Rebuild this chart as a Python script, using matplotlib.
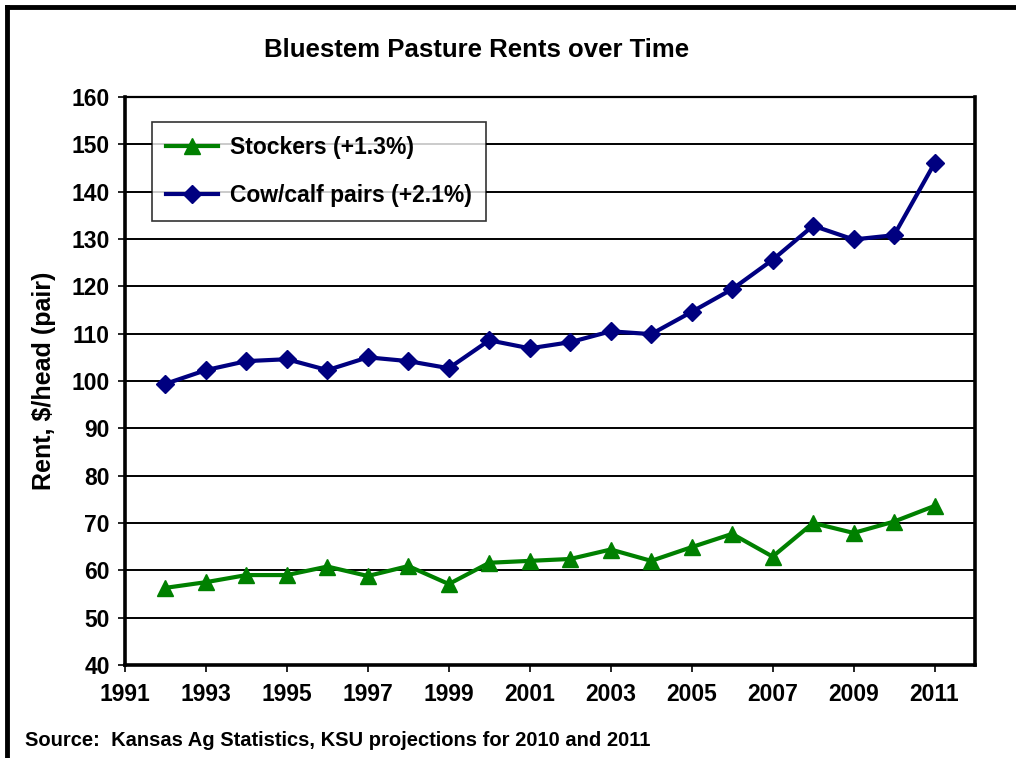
import matplotlib
matplotlib.use("Agg")
import matplotlib.pyplot as plt
from matplotlib.lines import Line2D

years = list(range(1992, 2012))
stockers = [56.3, 57.5, 59.0, 59.0, 60.8, 58.8, 60.9, 57.1, 61.6, 62.0,
            62.4, 64.4, 62.0, 64.9, 67.7, 62.9, 70.0, 67.9, 70.3, 73.6]
cowcalf = [99.4, 102.3, 104.2, 104.6, 102.3, 105.0, 104.2, 102.7, 108.6, 106.9,
           108.2, 110.5, 109.9, 114.6, 119.4, 125.6, 132.8, 129.9, 130.8, 146.0]
xticks = list(range(1991, 2012, 2))
yticks = list(range(40, 161, 10))
series_labels = ["Stockers (+1.3%)", "Cow/calf pairs (+2.1%)"]
title = "Bluestem Pasture Rents over Time"
ylabel = "Rent, $/head (pair)"
source = "Source:  Kansas Ag Statistics, KSU projections for 2010 and 2011"

plt.rcParams['font.family'] = ['Liberation Sans', 'DejaVu Sans']
plt.rcParams['font.weight'] = 'bold'

fig = plt.figure(figsize=(10.16, 7.58), dpi=100)
W, H = 1016, 758
ax = fig.add_axes([125 / W, 1 - 665 / H, 850 / W, 568 / H])

green = "#008000"
navy = "#000080"
ax.plot(years, stockers, color=green, lw=3, marker="^", ms=12, zorder=3,
        label=series_labels[0])
ax.plot(years, cowcalf, color=navy, lw=3, marker="D", ms=9, zorder=3,
        label=series_labels[1])

ax.set_xlim(1991, 2012)
ax.set_ylim(40, 160)
ax.set_xticks(xticks)
ax.set_yticks(yticks)
ax.tick_params(axis="both", labelsize=16.5, direction="out", length=5,
               width=1.2)
ax.tick_params(axis="y", pad=6)
ax.tick_params(axis="x", pad=8)
for lab in ax.get_xticklabels() + ax.get_yticklabels():
    lab.set_fontweight("bold")
ax.yaxis.grid(True, color="black", lw=1.4, zorder=1)
ax.set_axisbelow(True)
for side in ["left", "bottom", "right"]:
    ax.spines[side].set_linewidth(2.6)
ax.spines["top"].set_linewidth(1.6)

ax.set_ylabel(ylabel, fontsize=18, fontweight="bold", labelpad=11)

leg = ax.legend(loc="upper left", bbox_to_anchor=((152 - 125) / 850, 1 - (122 - 97) / 568),
                fontsize=16.5, frameon=True, fancybox=False, edgecolor="black",
                borderpad=0.6, labelspacing=1.1, handlelength=2.3,
                handletextpad=0.5, borderaxespad=0)
leg.get_frame().set_linewidth(1.2)
leg.set_zorder(5)
for t in leg.get_texts():
    t.set_fontweight("bold")

fig.text(477 / W, 1 - 50 / H, title, ha="center", va="center",
         fontsize=18.5, fontweight="bold")
fig.text(25 / W, 1 - 741 / H, source, ha="left", va="center",
         fontsize=14.5, fontweight="bold")

# figure border (left and top)
fig.add_artist(Line2D([7 / W, 7 / W], [0, 1 - 7 / H], transform=fig.transFigure,
                      color="black", lw=3.5))
fig.add_artist(Line2D([7 / W, 1], [1 - 7 / H, 1 - 7 / H], transform=fig.transFigure,
                      color="black", lw=3.5))

fig.savefig("out.png", dpi=100)
